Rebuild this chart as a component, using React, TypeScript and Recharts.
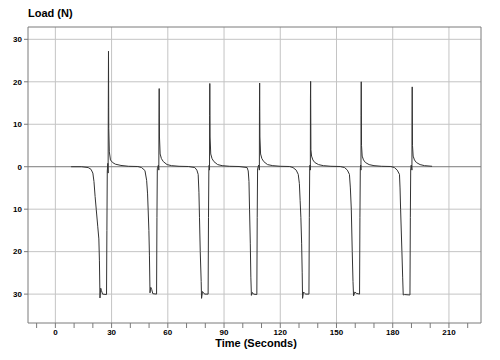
import { LineChart, Line, XAxis, YAxis, ReferenceLine } from 'recharts';

// load trace, one array per load cycle: [time (s), load (N)]
const cycle1: [number, number][] = [
  [8.4, 0], [14, 0], [17.5, -0.2], [19, -0.6], [20, -1.5], [20.6, -3.5], [21.2, -7], [21.8, -10],
  [22.6, -14], [23.2, -17], [23.5, -22], [23.8, -30.9], [24.2, -28.6], [24.6, -29.2], [25.2, -30],
  [27.3, -30.1], [27.5, -15], [27.7, -1], [28.0, 0.8], [28.15, -1.5], [28.25, 14], [28.35, 27.2],
  [28.5, 9], [28.8, 3.5], [29.4, 1.6], [30.5, 1.0], [32, 0.6], [35, 0.3], [39, 0.1], [44, 0.05],
];
const cycle2: [number, number][] = [
  [46, -0.2], [47.8, -0.9], [48.7, -3.2], [49.2, -6.4], [49.5, -10], [49.9, -15], [50.2, -21],
  [50.5, -29.7], [50.9, -28.4], [51.4, -28.9], [52, -29.9], [54.0, -30], [54.2, -12], [54.4, -0.5],
  [55.0, 0.4], [55.2, -0.8], [55.3, 11.7], [55.4, 18.4], [55.55, 7], [55.9, 3], [56.6, 1.9],
  [57.6, 1.2], [59.6, 0.5], [62, 0.25], [66, 0.1], [71, 0.05],
];
const cycle3: [number, number][] = [
  [74.4, -0.2], [75.5, -0.8], [76.2, -1.8], [76.6, -6], [76.9, -12], [77.3, -20], [77.8, -27],
  [78.0, -31], [78.5, -29.4], [79.0, -29.6], [79.6, -30], [81.5, -30], [81.7, -12], [81.9, -0.5],
  [82.1, 0.4], [82.25, -0.8], [82.3, 12.1], [82.4, 19.6], [82.55, 7], [82.9, 3], [83.6, 1.9],
  [84.6, 1.2], [86.6, 0.5], [89, 0.25], [93, 0.1], [98, 0.05],
];
const cycle4: [number, number][] = [
  [102.3, -0.2], [102.9, -1], [103.3, -3.5], [103.6, -10], [104.0, -18], [104.3, -26], [104.6, -30.3],
  [105.1, -29.6], [105.7, -30], [107.5, -30.1], [107.7, -12], [107.9, -0.5], [108.5, 0.4],
  [108.85, -0.8], [108.9, 12.9], [109.0, 19.7], [109.15, 7], [109.5, 3], [110.2, 1.9], [111.2, 1.2],
  [113.2, 0.5], [116, 0.25], [120, 0.1], [125, 0.05],
];
const cycle5: [number, number][] = [
  [126.8, -0.2], [128.5, -0.8], [129.6, -1.8], [130.2, -4], [130.6, -8], [131.0, -12], [131.4, -18],
  [131.7, -25], [131.9, -31], [132.4, -29.5], [133.0, -29.8], [133.6, -30], [135.3, -30],
  [135.5, -12], [135.7, -0.5], [135.9, 0.4], [136.05, -0.8], [136.1, 16], [136.2, 20.1],
  [136.35, 4], [136.7, 2.5], [137.4, 1.6], [138.4, 1.0], [140.4, 0.5], [143, 0.25], [147, 0.1],
  [152, 0.05],
];
const cycle6: [number, number][] = [
  [154.3, -0.2], [155.8, -0.8], [156.9, -1.8], [157.4, -5], [157.9, -10], [158.4, -20], [158.8, -27],
  [159.1, -30.4], [159.8, -29.5], [160.5, -29.8], [162.3, -30], [162.5, -12], [162.7, -0.5],
  [162.9, 0.4], [163.05, -0.8], [163.1, 12], [163.2, 20.0], [163.35, 5], [163.7, 2.5], [164.4, 1.6],
  [165.4, 1.0], [167.4, 0.5], [170, 0.25], [174, 0.1], [179, 0.05],
];
const cycle7: [number, number][] = [
  [180.9, -0.2], [182.4, -0.8], [183.6, -1.8], [183.9, -5], [184.2, -10], [184.9, -20], [185.3, -26],
  [185.6, -30.2], [186.3, -30.1], [189.2, -30.2], [189.4, -12], [189.6, -0.5], [189.9, 0.4],
  [190.25, -0.8], [190.3, 10], [190.4, 18.8], [190.55, 5], [190.9, 2.5], [191.6, 1.6], [192.6, 1.0],
  [194.6, 0.5], [197, 0.25], [201, 0.1],
];

const xTicks = [-10, 0, 10, 20, 30, 40, 50, 60, 70, 80, 90, 100, 110, 120, 130, 140, 150, 160, 170, 180, 190, 200, 210, 220];
const xGrid = [0, 30, 60, 90, 120, 150, 180, 210];
const yTicks = [-30, -20, -10, 0, 10, 20, 30];

const X_MIN = -14.6;
const X_MAX = 227.1;
const Y_MIN = -36.8;
const Y_MAX = 32.9;

const data = [...cycle1, ...cycle2, ...cycle3, ...cycle4, ...cycle5, ...cycle6, ...cycle7]
  .map(([t, load]) => ({ t, load }));

const FONT = '"Liberation Sans", Arial, sans-serif';
const AXIS = '#7a7a7a';
const GRID = '#c4c4c4';
const tickStyle = { fontSize: 8, fontWeight: 'bold', fill: '#000', fontFamily: FONT };

export default function App() {
  return (
    <div style={{ position: 'absolute', left: 0, top: 0, width: 500, height: 360, background: '#fff', fontFamily: FONT }}>
      <LineChart width={500} height={360} data={data} margin={{ top: 27, right: 19, bottom: 0, left: 0 }}>
        <XAxis
          dataKey="t"
          type="number"
          domain={[X_MIN, X_MAX]}
          ticks={xTicks}
          interval={0}
          allowDataOverflow
          height={37}
          tickSize={5}
          tickMargin={1}
          stroke={AXIS}
          tick={tickStyle}
          tickFormatter={(v: number) => (v % 30 === 0 && v >= 0 && v <= 210 ? String(v) : '')}
        />
        <YAxis
          type="number"
          domain={[Y_MIN, Y_MAX]}
          ticks={yTicks}
          interval={0}
          allowDataOverflow
          width={28}
          tickSize={4}
          tickMargin={2}
          stroke={AXIS}
          tick={tickStyle}
          tickFormatter={(v: number) => String(Math.abs(v))}
        />
        {xGrid.map((x) => (
          <ReferenceLine key={'x' + x} x={x} stroke={GRID} strokeWidth={1} />
        ))}
        {yTicks.filter((y) => y !== 0).map((y) => (
          <ReferenceLine key={'y' + y} y={y} stroke={GRID} strokeWidth={1} />
        ))}
        <ReferenceLine y={0} stroke={AXIS} strokeWidth={1} />
        <ReferenceLine y={Y_MAX} stroke={AXIS} strokeWidth={1} />
        <ReferenceLine x={X_MAX} stroke={AXIS} strokeWidth={1} />
        <Line
          dataKey="load"
          type="linear"
          stroke="#333"
          strokeWidth={1}
          dot={false}
          isAnimationActive={false}
        />
      </LineChart>
      <div style={{ position: 'absolute', left: 28, top: 6, fontSize: 11, fontWeight: 'bold', lineHeight: '14px', color: '#000' }}>
        Load (N)
      </div>
      <div style={{ position: 'absolute', left: 6, top: 338, width: 500, textAlign: 'center', fontSize: 11, fontWeight: 'bold', lineHeight: '11px', color: '#000' }}>
        Time (Seconds)
      </div>
    </div>
  );
}
